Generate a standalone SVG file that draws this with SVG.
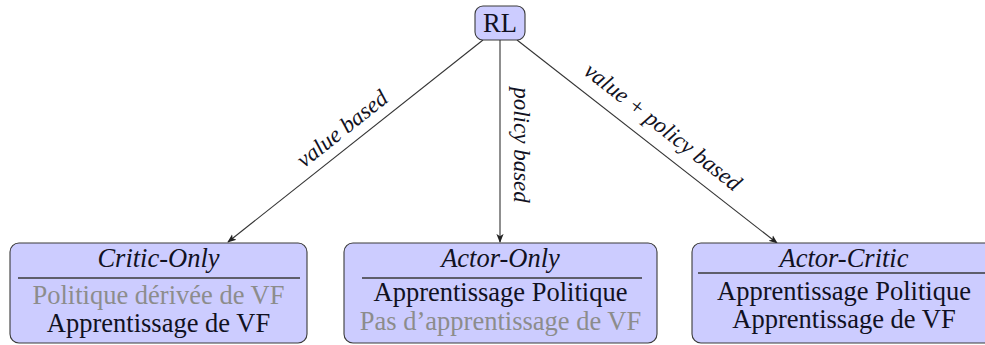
<svg xmlns="http://www.w3.org/2000/svg" width="985" height="345" viewBox="0 0 985 345">
  <style>
    .box { fill: #ccccff; stroke: #3a3a3a; stroke-width: 1.1; }
    .rule { stroke: #3a3a3a; stroke-width: 1.3; }
    text { fill: #111122; text-anchor: middle; }
    .t { font-size: 26.5px; }
    .it { font-style: italic; }
    .gray { fill: #8c8c8c; }
    .lbl { font-style: italic; font-size: 23px; }
    .edge { stroke: #333333; stroke-width: 1.1; fill: none; marker-end: url(#arrow); }
  </style>
  <defs>
    <marker id="arrow" viewBox="0 0 10 10" refX="9" refY="5" markerWidth="9" markerHeight="9" markerUnits="userSpaceOnUse" orient="auto">
      <path d="M0,1 L10,5 L0,9 L2.5,5 Z" fill="#222222"/>
    </marker>
  </defs>
  <rect width="985" height="345" fill="#ffffff"/>

  <g font-family="Liberation Serif, DejaVu Serif, serif">
  <g id="connectors">
    <line class="edge" x1="483" y1="40" x2="228" y2="242"/>
    <line class="edge" x1="500" y1="40" x2="500" y2="242"/>
    <line class="edge" x1="517" y1="40" x2="777" y2="243"/>
    <text class="lbl" transform="translate(343,130) rotate(-38.4)" x="0" y="6">value based</text>
    <text class="lbl" transform="translate(520,145) rotate(90)" x="0" y="6">policy based</text>
    <text class="lbl" transform="translate(662,128) rotate(38)" x="0" y="6" font-size="24">value + policy based</text>
  </g>

  <g id="rl">
    <rect class="box" x="475" y="6" width="50" height="34" rx="8"/>
    <text class="t" x="500" y="32" font-size="25">RL</text>
  </g>

  <g id="critic-only">
    <rect class="box" x="10" y="243" width="297" height="100" rx="9"/>
    <text class="t it" x="158.5" y="267">Critic-Only</text>
    <line class="rule" x1="18" y1="278" x2="300" y2="278"/>
    <text class="t gray" x="158.5" y="304">Politique dérivée de VF</text>
    <text class="t" x="158.5" y="331.5">Apprentissage de VF</text>
  </g>

  <g id="actor-only">
    <rect class="box" x="344" y="243" width="313" height="100" rx="9"/>
    <text class="t it" x="500.5" y="267">Actor-Only</text>
    <line class="rule" x1="362" y1="278" x2="642" y2="278"/>
    <text class="t" x="500.5" y="301">Apprentissage Politique</text>
    <text class="t gray" x="500.5" y="329.5">Pas d’apprentissage de VF</text>
  </g>

  <g id="actor-critic">
    <rect class="box" x="692" y="243" width="304" height="100" rx="9"/>
    <text class="t it" x="844" y="266.5">Actor-Critic</text>
    <line class="rule" x1="698" y1="273" x2="992" y2="273"/>
    <text class="t" x="844" y="300">Apprentissage Politique</text>
    <text class="t" x="844" y="328">Apprentissage de VF</text>
  </g>
  </g>
</svg>
